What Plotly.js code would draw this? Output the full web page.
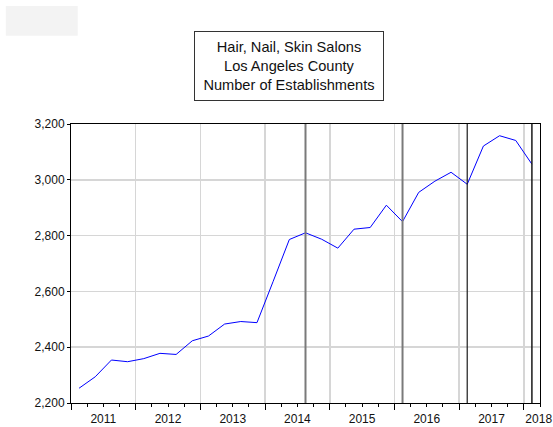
<!DOCTYPE html>
<html>
<head>
<meta charset="utf-8">
<script src="https://cdn.plot.ly/plotly-3.0.1.min.js"></script>
<style>
  html, body { margin: 0; padding: 0; background: #fff; }
  #chart { width: 553px; height: 427px; }
</style>
</head>
<body>
<div id="chart"></div>
<script>
// Quarterly periods (plotted at the centre of each quarter)
const periods = [
  '2011Q1','2011Q2','2011Q3','2011Q4',
  '2012Q1','2012Q2','2012Q3','2012Q4',
  '2013Q1','2013Q2','2013Q3','2013Q4',
  '2014Q1','2014Q2','2014Q3','2014Q4',
  '2015Q1','2015Q2','2015Q3','2015Q4',
  '2016Q1','2016Q2','2016Q3','2016Q4',
  '2017Q1','2017Q2','2017Q3','2017Q4',
  '2018Q1'
];
const establishments = [
  2253, 2294, 2354, 2348,
  2359, 2378, 2374, 2423,
  2440, 2483, 2492, 2488,
  2636, 2786, 2810, 2787,
  2755, 2823, 2829, 2909,
  2850, 2955, 2995, 3027,
  2984, 3121, 3158, 3141,
  3056
];
// Vertical marker lines (periods)
const markerPeriods = ['2014Q3', '2016Q1', '2017Q1', '2018Q1'];
const markerColors = ['#7a7a7a', '#7a7a7a', '#1a1a1a', '#1a1a1a'];
const markerWidths = [2, 2, 1.2, 1.5];

const yearTicks = [2011, 2012, 2013, 2014, 2015, 2016, 2017, 2018];
const yearLabels = ['2011', '2012', '2013', '2014', '2015', '2016', '2017', '2018'];
const yTicks = [2200, 2400, 2600, 2800, 3000, 3200];

const titleLines = ['Hair, Nail, Skin Salons', 'Los Angeles County', 'Number of Establishments'];

function periodToX(p) {
  const yr = parseInt(p.slice(0, 4), 10);
  const q = parseInt(p.slice(5), 10);
  return yr + (q - 0.5) / 4;
}

const xs = periods.map(periodToX);
const xStart = yearTicks[0];
const xEnd = yearTicks[yearTicks.length - 1] + 0.25;
// label positions: centre of each year's visible span
const labelPos = yearTicks.map(y => (Math.max(y, xStart) + Math.min(y + 1, xEnd)) / 2);
labelPos[labelPos.length - 1] = xEnd - 0.02;

const font = 'Arial, "Liberation Sans", sans-serif';

const traces = [
  {
    x: xs, y: establishments, type: 'scatter', mode: 'lines',
    line: { color: '#0000ff', width: 1 },
    xaxis: 'x', yaxis: 'y', hoverinfo: 'skip', showlegend: false
  },
  {
    x: [xStart, xEnd], y: [yTicks[0], yTicks[0]], type: 'scatter', mode: 'lines',
    line: { color: 'rgba(0,0,0,0)', width: 0 },
    xaxis: 'x2', yaxis: 'y', hoverinfo: 'skip', showlegend: false
  }
];

const shapes = [
  { type: 'rect', xref: 'paper', yref: 'paper',
    x0: -0.139, x1: 0.0143, y0: 1.316, y1: 1.423,
    fillcolor: '#f3f3f3', line: { width: 0 }, layer: 'below' }
];
markerPeriods.forEach((p, i) => {
  const xv = periodToX(p);
  shapes.push({ type: 'line', xref: 'x', yref: 'paper', x0: xv, x1: xv, y0: 0, y1: 1,
    line: { color: markerColors[i], width: markerWidths[i] }, layer: 'above' });
});

const layout = {
  width: 553, height: 427,
  margin: { l: 71, r: 13, t: 124, b: 24 },
  paper_bgcolor: '#ffffff', plot_bgcolor: '#ffffff',
  font: { family: font, size: 12, color: '#111' },
  showlegend: false,
  xaxis: {
    range: [xStart, xEnd], tickmode: 'array', tickvals: yearTicks,
    showticklabels: false, ticks: 'outside', ticklen: 6, tickwidth: 1, tickcolor: '#000',
    showgrid: true, gridcolor: '#d6d6d6', gridwidth: 1.5,
    showline: true, linecolor: '#000', linewidth: 1, mirror: true, zeroline: false,
    minor: { tickmode: 'linear', tick0: xStart, dtick: 0.25, ticks: 'outside', ticklen: 3, tickcolor: '#000', showgrid: false }
  },
  xaxis2: {
    overlaying: 'x', anchor: 'y', side: 'bottom',
    range: [xStart, xEnd], tickmode: 'array', tickvals: labelPos, ticktext: yearLabels,
    ticks: 'outside', ticklen: 5, tickcolor: 'rgba(0,0,0,0)',
    showgrid: false, showline: false, zeroline: false,
    tickfont: { family: font, size: 12, color: '#111' }
  },
  yaxis: {
    range: [yTicks[0], yTicks[yTicks.length - 1]], tickmode: 'array', tickvals: yTicks,
    tickformat: ',d', ticks: 'outside', ticklen: 3, tickcolor: '#000',
    showgrid: true, gridcolor: '#d6d6d6', gridwidth: 1.5,
    showline: true, linecolor: '#000', linewidth: 1, mirror: true, zeroline: false,
    tickfont: { family: font, size: 12, color: '#111' }
  },
  shapes: shapes,
  annotations: [
    {
      xref: 'paper', yref: 'paper', x: 0.4648, y: 1.208,
      xanchor: 'center', yanchor: 'middle', showarrow: false,
      text: titleLines.join('<br>'),
      font: { family: font, size: 14.6, color: '#111' },
      align: 'center',
      bordercolor: '#333', borderwidth: 1, borderpad: 0,
      bgcolor: '#ffffff', width: 188, height: 68
    }
  ]
};

Plotly.newPlot('chart', traces, layout, { staticPlot: true, displayModeBar: false });
</script>
</body>
</html>
